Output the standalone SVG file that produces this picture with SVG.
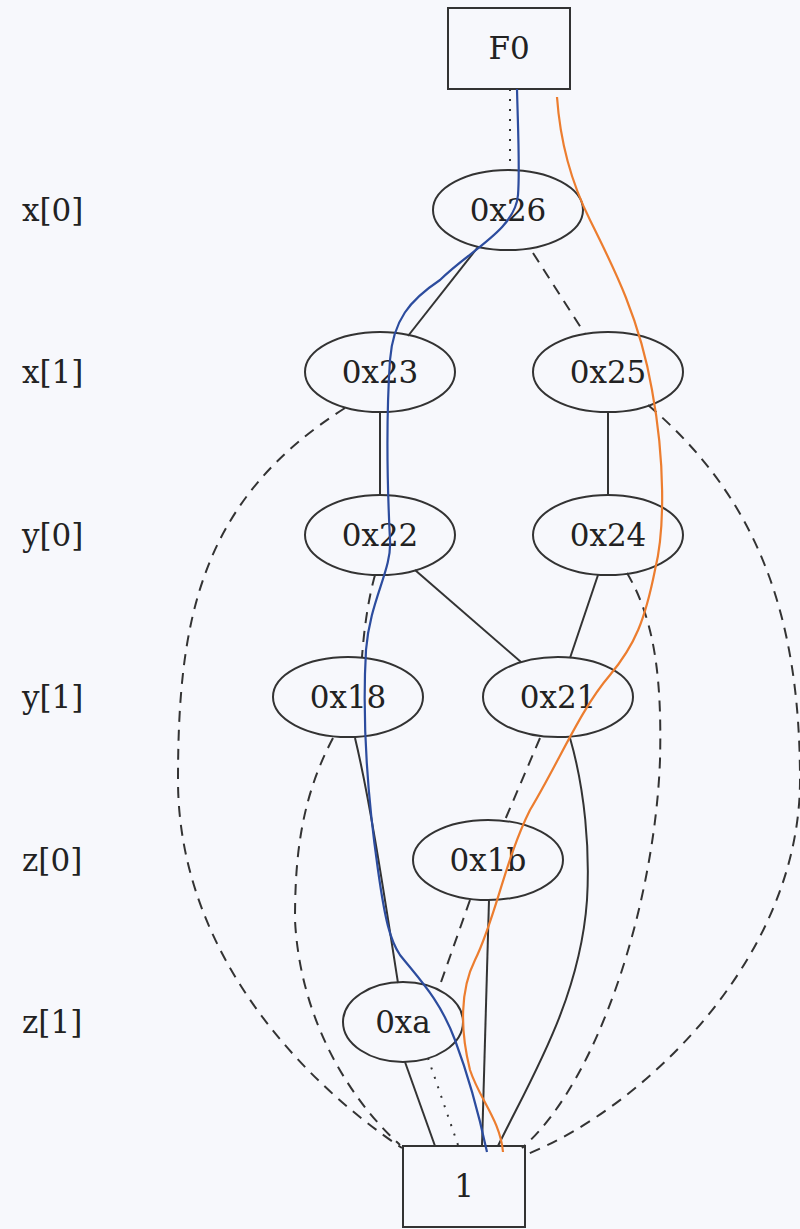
<svg xmlns="http://www.w3.org/2000/svg" width="800" height="1229" viewBox="0 0 800 1229">
<style>
.bg{fill:#f7f8fc}
.node{fill:none;stroke:#333;stroke-width:2}
.t{font-family:"DejaVu Serif","Liberation Serif",serif;font-size:31px;fill:#222;text-anchor:middle;dominant-baseline:central}
.lab{font-family:"DejaVu Serif","Liberation Serif",serif;font-size:31px;fill:#222;dominant-baseline:central}
.e{fill:none;stroke:#333;stroke-width:2}
.dash{stroke-dasharray:11,8}
.dot{stroke-dasharray:2,8}
.blue{fill:none;stroke:#2c4c9e;stroke-width:2.2}
.orange{fill:none;stroke:#ec7d2f;stroke-width:2.2}
</style>
<rect class="bg" x="0" y="0" width="800" height="1229"/>
<g id="levels">
<text class="lab" x="22" y="210">x[0]</text>
<text class="lab" x="22" y="372">x[1]</text>
<text class="lab" x="22" y="535">y[0]</text>
<text class="lab" x="22" y="697">y[1]</text>
<text class="lab" x="22" y="860">z[0]</text>
<text class="lab" x="22" y="1022">z[1]</text>
</g>
<g id="connectors">
<path class="e dot" d="M510 89 L510 170"/>
<path class="e" d="M478 247 L408 336"/>
<path class="e dash" d="M533 253 L585 334"/>
<path class="e" d="M380 412 L380 495"/>
<path class="e dash" d="M345 408 C200 500 178 620 178 780 C178 950 300 1080 402 1148"/>
<path class="e" d="M608 412 L608 495"/>
<path class="e dash" d="M648 405 C760 500 800 620 800 780 C800 960 640 1110 525 1155"/>
<path class="e dash" d="M375 575 C368 600 364 630 362 657"/>
<path class="e" d="M415 570 L521 662"/>
<path class="e" d="M598 575 L570 658"/>
<path class="e dash" d="M627 573 C655 620 662 680 660 760 C655 900 600 1080 522 1148"/>
<path class="e" d="M355 738 C370 800 385 900 398 983"/>
<path class="e dash" d="M333 738 C300 800 295 860 295 920 C300 1020 350 1100 400 1145"/>
<path class="e dash" d="M540 738 L505 820"/>
<path class="e" d="M570 738 C585 790 590 850 587 900 C580 1000 530 1080 498 1146"/>
<path class="e dash" d="M470 900 L440 985"/>
<path class="e" d="M489 900 L482 1146"/>
<path class="e" d="M405 1062 L435 1146"/>
<path class="e dot" d="M428 1058 L458 1145"/>
</g>
<g id="F0"><rect class="node" x="448" y="8" width="122" height="81"/><text class="t" x="509" y="48">F0</text></g>
<g id="n0x26"><ellipse class="node" cx="508" cy="210" rx="75" ry="40"/><text class="t" x="508" y="210">0x26</text></g>
<g id="n0x23"><ellipse class="node" cx="380" cy="372" rx="75" ry="40"/><text class="t" x="380" y="372">0x23</text></g>
<g id="n0x25"><ellipse class="node" cx="608" cy="372" rx="75" ry="40"/><text class="t" x="608" y="372">0x25</text></g>
<g id="n0x22"><ellipse class="node" cx="380" cy="535" rx="75" ry="40"/><text class="t" x="380" y="535">0x22</text></g>
<g id="n0x24"><ellipse class="node" cx="608" cy="535" rx="75" ry="40"/><text class="t" x="608" y="535">0x24</text></g>
<g id="n0x18"><ellipse class="node" cx="348" cy="697" rx="75" ry="40"/><text class="t" x="348" y="697">0x18</text></g>
<g id="n0x21"><ellipse class="node" cx="558" cy="697" rx="75" ry="40"/><text class="t" x="558" y="697">0x21</text></g>
<g id="n0x1b"><ellipse class="node" cx="488" cy="860" rx="75" ry="40"/><text class="t" x="488" y="860">0x1b</text></g>
<g id="n0xa"><ellipse class="node" cx="403" cy="1022" rx="60" ry="40"/><text class="t" x="403" y="1022">0xa</text></g>
<g id="one"><rect class="node" x="403" y="1146" width="122" height="81"/><text class="t" x="464" y="1186">1</text></g>
<g id="highlights">
<path class="blue" d="M517 89 C518 130 520 170 518 195 C515 230 470 250 440 280 C410 300 393 320 390 360 C386 420 387 480 390 540 C392 570 370 600 366 650 C362 720 368 800 378 870 C385 920 390 940 400 955 C420 980 440 1000 455 1040 C470 1080 478 1110 487 1152"/>
<path class="orange" d="M557 97 C560 140 570 180 590 220 C615 270 640 320 652 390 C665 460 665 530 655 570 C645 620 635 645 610 675 C580 710 560 760 530 810 C505 860 495 920 475 960 C460 990 460 1030 470 1070 C480 1100 500 1120 503 1152"/>
</g>
</svg>
